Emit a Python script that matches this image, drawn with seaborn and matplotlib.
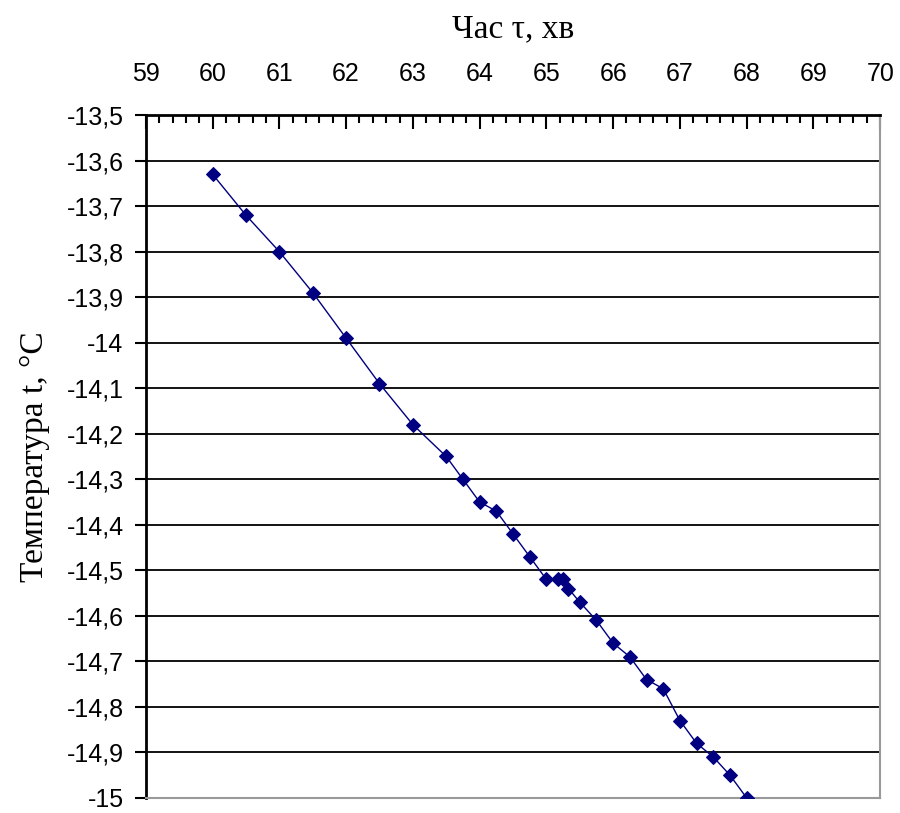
import matplotlib
matplotlib.use("Agg")
import matplotlib.pyplot as plt
import matplotlib.ticker as mticker
import seaborn as sns
import pandas as pd

time_min = [60, 60.5, 61, 61.5, 62, 62.5, 63, 63.5, 63.75, 64, 64.25, 64.5, 64.75,
            65, 65.17, 65.25, 65.33, 65.5, 65.75, 66, 66.25, 66.5, 66.75, 67,
            67.25, 67.5, 67.75, 68]
temp_c = [-13.63, -13.72, -13.80, -13.89, -13.99, -14.09, -14.18, -14.25, -14.30,
          -14.35, -14.37, -14.42, -14.47, -14.52, -14.52, -14.52, -14.54, -14.57,
          -14.61, -14.66, -14.69, -14.74, -14.76, -14.83, -14.88, -14.91, -14.95,
          -15.00]
x_ticks = list(range(59, 71))
y_ticks = [-13.5, -13.6, -13.7, -13.8, -13.9, -14.0, -14.1, -14.2, -14.3, -14.4,
           -14.5, -14.6, -14.7, -14.8, -14.9, -15.0]
x_label = "Час τ, хв"
y_label = "Температура t, °C"

sns.set_theme(style="white")
plt.rcParams['font.family'] = ['Liberation Sans', 'DejaVu Sans']

df = pd.DataFrame({"t": time_min, "T": temp_c})

fig = plt.figure(figsize=(9, 8.13), dpi=100)
ax = fig.add_axes([0.162, 0.0185, 0.816, 0.84])

for yv in y_ticks:
    ax.axhline(yv, color="black", lw=1.3, zorder=1)

sns.lineplot(data=df, x="t", y="T", ax=ax, color="#000080", lw=1.0,
             marker="D", markersize=7.5, markeredgecolor="#000080",
             markerfacecolor="#000080", sort=False, zorder=3)

ax.set_xlim(59, 70)
ax.set_ylim(-15.0, -13.5)
ax.xaxis.tick_top()
ax.xaxis.set_label_position("top")
ax.set_xticks(x_ticks)
ax.set_xticklabels([str(v) for v in x_ticks])
ax.xaxis.set_minor_locator(mticker.MultipleLocator(0.2))
ax.set_yticks(y_ticks)
ax.set_yticklabels([(f"{v:.1f}".rstrip("0").rstrip(".")).replace(".", ",") for v in y_ticks])

ax.tick_params(axis="x", which="major", direction="in", length=10, width=1.5,
               color="black", top=True, bottom=False, labelsize=18, pad=21,
               labelcolor="black")
ax.tick_params(axis="x", which="minor", direction="in", length=6, width=1.5,
               color="black", top=True, bottom=False)
ax.tick_params(axis="y", which="major", direction="out", length=8, width=1.5,
               color="black", left=True, labelsize=18, pad=8, labelcolor="black")

for s in ["top", "left"]:
    ax.spines[s].set_color("black")
    ax.spines[s].set_linewidth(2)
for s in ["right", "bottom"]:
    ax.spines[s].set_color("#999999")
    ax.spines[s].set_linewidth(1.5)
for s in ax.spines.values():
    s.set_visible(True)

ax.set_xlabel(x_label, family=['Liberation Serif', 'DejaVu Serif'], fontsize=24,
              labelpad=18, color="black")
ax.set_ylabel(y_label, family=['Liberation Serif', 'DejaVu Serif'], fontsize=24,
              labelpad=12, color="black")
ax.grid(False)

fig.savefig("out.png", dpi=100)
